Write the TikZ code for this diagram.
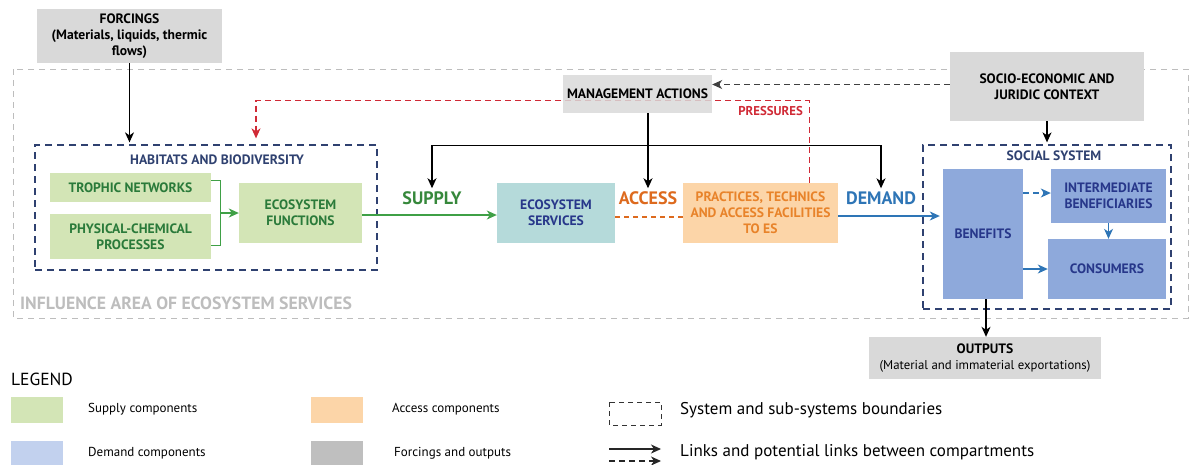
\documentclass[tikz,border=0pt]{standalone}
\usepackage{fontspec}
\setmainfont{PT Sans}
\usetikzlibrary{arrows.meta}

\definecolor{boxgray}{HTML}{D9D9D9}
\definecolor{leggray}{HTML}{BFBFBF}
\definecolor{supfill}{HTML}{D3E5B6}
\definecolor{suptext}{HTML}{2A7A3A}
\definecolor{supline}{HTML}{3FA046}
\definecolor{esfill}{HTML}{B5DADA}
\definecolor{accfill}{HTML}{FCD5A8}
\definecolor{acctext}{HTML}{E8832A}
\definecolor{accline}{HTML}{DD6A1E}
\definecolor{demfill}{HTML}{8EA9DB}
\definecolor{demleg}{HTML}{C2D1EE}
\definecolor{demtext}{HTML}{27378A}
\definecolor{demline}{HTML}{2E75B6}
\definecolor{sysline}{HTML}{2F4170}
\definecolor{presline}{HTML}{D02A36}
\definecolor{areagray}{HTML}{BDBDBD}

\begin{document}
\begin{tikzpicture}[x=1pt,y=-1pt,
  comp/.style={inner sep=0pt, align=center, font=\bfseries\fontsize{13.6}{16}\selectfont},
  graybox/.style={comp, fill=boxgray},
  supbox/.style={comp, fill=supfill, text=suptext},
  accbox/.style={comp, fill=accfill, text=acctext},
  dembox/.style={comp, fill=demfill, text=demtext},
  sysbox/.style={draw=sysline, line width=1.3pt, dash pattern=on 7pt off 5pt},
  flowlabel/.style={inner sep=2pt, font=\bfseries\fontsize{18}{18}\selectfont},
  link/.style={-{Stealth[length=10pt,width=9pt,inset=3pt]}, line width=1.1pt},
  dlink/.style={link, dash pattern=on 6pt off 4pt},
  legtxt/.style={anchor=west, inner sep=0pt, font=\fontsize{13}{14}\selectfont},
  swatch/.style={minimum width=52, minimum height=26, inner sep=0pt}]

  \useasboundingbox (0,0) rectangle (1190,464);

  % influence area
  \draw[areagray, line width=1pt, dash pattern=on 6pt off 5pt] (13,69) rectangle (1188,318);
  \node[anchor=west, inner sep=0pt, text=areagray, font=\bfseries\fontsize{17.7}{18}\selectfont]
    (area) at (20,303) {INFLUENCE AREA OF ECOSYSTEM SERVICES};

  % forcings and context
  \node[graybox, minimum width=185, minimum height=54] (forcings) at (129.5,36)
    {FORCINGS\\(Materials, liquids, thermic\\flows)};
  \node[graybox, minimum width=194, minimum height=69] (socio) at (1047,86.5)
    {SOCIO-ECONOMIC AND\\JURIDIC CONTEXT};

  % supply side
  \node[sysbox, minimum width=342, minimum height=125, inner sep=0pt] (habitats) at (206,207.5) {};
  \node[comp, text=sysline] (habtitle) at (217,160) {HABITATS AND BIODIVERSITY};
  \node[supbox, minimum width=161, minimum height=29] (trophic) at (130.5,187.5) {TROPHIC NETWORKS};
  \node[supbox, minimum width=161, minimum height=45] (physical) at (130.5,236.5)
    {PHYSICAL-CHEMICAL\\PROCESSES};
  \node[supbox, minimum width=123, minimum height=60] (functions) at (300.5,213)
    {ECOSYSTEM\\FUNCTIONS};

  \node[comp, fill=esfill, text=demtext, minimum width=118, minimum height=60] (services) at (556,213)
    {ECOSYSTEM\\SERVICES};
  \node[accbox, minimum width=155, minimum height=60] (practices) at (760.5,213)
    {PRACTICES, TECHNICS\\AND ACCESS FACILITIES\\TO ES};

  \node[flowlabel, text=supline!85!black] (supply) at (432,198) {SUPPLY};
  \node[flowlabel, text=accline] (access) at (648,198) {ACCESS};
  \node[flowlabel, text=demline] (demand) at (881,198) {DEMAND};

  % pressures goes under the management box
  \draw[presline, line width=1.1pt, dash pattern=on 6pt off 4pt, -{Stealth[length=10pt,width=9pt,inset=3pt]},
    shorten >=6pt] ([xshift=-29pt]practices.north east) -- ++(0,-82) -| ([xshift=50pt]habitats.north);
  \node[anchor=east, inner sep=0pt, text=presline, font=\bfseries\fontsize{12.8}{13}\selectfont]
    (pressures) at (803,111) {PRESSURES};

  \node[graybox, fill opacity=0.85, text opacity=1, minimum width=149, minimum height=38] (mgmt) at (637.5,94)
    {MANAGEMENT ACTIONS};

  % social system
  \node[sysbox, minimum width=248, minimum height=164, inner sep=0pt] (social) at (1047,227) {};
  \node[comp, text=sysline] (soctitle) at (1054,156) {SOCIAL SYSTEM};
  \node[dembox, minimum width=80, minimum height=130] (benefits) at (983,234) {BENEFITS};
  \node[dembox, minimum width=115, minimum height=54] (inter) at (1108.5,196)
    {INTERMEDIATE\\BENEFICIARIES};
  \node[dembox, minimum width=118, minimum height=60] (consumers) at (1107,269) {CONSUMERS};

  \node[graybox, minimum width=232, minimum height=42] (outputs) at (985,358)
    {OUTPUTS\\\mdseries\fontsize{12.8}{16}\selectfont(Material and immaterial exportations)};

  % links
  \draw[link, shorten >=2pt] (forcings.south) -- (forcings.south |- habitats.north);

  \path (trophic.east) ++(9,0) coordinate (brk);
  \draw[supline, line width=1.1pt] ([yshift=7pt]trophic.east) -| (brk) |- ([yshift=-9pt]physical.east);
  \draw[link, supline] (brk |- functions.west) -- (functions.west);
  \draw[link, supline] ([yshift=-2pt]functions.east) -- ([yshift=-2pt]services.west);
  \draw[accline, line width=1.1pt, dash pattern=on 5pt off 4pt] ([yshift=-4pt]services.east) -- ([yshift=-4pt]practices.west);
  \draw[link, demline, shorten >=3pt] ([yshift=-3pt]practices.east) -- ([yshift=-3pt]practices.east -| benefits.west);

  \draw[link, shorten >=1pt] (mgmt.south -| access.north) -- (access.north);
  \draw[link, shorten >=1pt] (mgmt.south -| access.north) ++(0,32) -| (supply.north);
  \draw[link, shorten >=1pt] (mgmt.south -| access.north) ++(0,32) -| (demand.north);

  \draw[dlink, black!75] ([yshift=2pt]socio.west) -- ([yshift=2pt]socio.west -| mgmt.east);
  \draw[link, shorten >=2pt] (socio.south) -- (socio.south |- social.north);

  \draw[dlink, demline] ([yshift=3pt]benefits.east |- inter.west) -- ([yshift=3pt]inter.west);
  \draw[link, demline] (benefits.east |- consumers.west) -- (consumers.west);
  \draw[link, demline] (inter.south) -- (inter.south |- consumers.north);
  \draw[link] ([xshift=3pt]benefits.south) -- ([xshift=3pt]benefits.south |- outputs.north);

  % legend
  \node[anchor=west, inner sep=0pt, font=\fontsize{17.5}{18}\selectfont] (legend) at (11,379) {LEGEND};
  \node[swatch, fill=supfill] (swsup) at (36.5,410) {};
  \node[swatch, fill=demleg] (swdem) at (36.5,454) {};
  \node[swatch, fill=accfill] (swacc) at (336.5,410) {};
  \node[swatch, fill=leggray] (swout) at (336.5,454) {};
  \node[legtxt] (lsup) at (88,409) {Supply components};
  \node[legtxt] (ldem) at (88,453) {Demand components};
  \node[legtxt] (lacc) at (392,409) {Access components};
  \node[legtxt] (lout) at (394,453) {Forcings and outputs};

  \draw[black!80, line width=1pt, dash pattern=on 5pt off 4pt] (609,402) rectangle (661,425);
  \draw[link, black!85] (609,449) -- (661,449);
  \draw[dlink, black!85] (609,461) -- (661,461);
  \node[legtxt, font=\fontsize{17}{18}\selectfont] (lsys) at (680,410) {System and sub-systems boundaries};
  \node[legtxt, font=\fontsize{17}{18}\selectfont] (llink) at (680,452) {Links and potential links between compartments};

\end{tikzpicture}
\end{document}
